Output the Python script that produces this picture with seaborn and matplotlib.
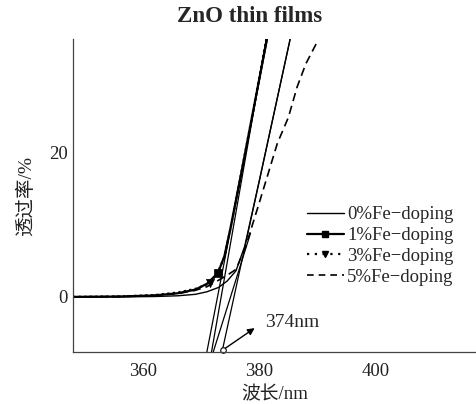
import numpy as np
import pandas as pd
import matplotlib
matplotlib.use("Agg")
import matplotlib.pyplot as plt
from matplotlib.lines import Line2D
import seaborn as sns

# Transmission spectra of ZnO thin films with different Fe doping
wl_0 = [348, 356, 362, 366, 369, 371, 373, 374.5, 376, 377.5, 380, 383, 385.3]
t_0 = [0, 0, 0.05, 0.15, 0.35, 0.7, 1.3, 2.2, 3.6, 7.0, 16.0, 27.1, 35.6]

wl_1 = [348, 356, 362, 366, 369, 371, 372.9, 374, 375, 377, 379, 381.3]
t_1 = [0, 0.05, 0.2, 0.5, 1.0, 1.8, 3.3, 5.6, 9.3, 17.5, 25.9, 35.6]

wl_3 = [348, 356, 362, 366, 369, 371.6, 373, 374, 375, 377, 379, 381.2]
t_3 = [0, 0.05, 0.25, 0.6, 1.1, 1.9, 3.6, 5.5, 9.2, 17.5, 25.9, 35.6]

wl_5 = [348, 356, 362, 366, 369, 371, 373, 374.5, 376, 377.6, 380, 383.1, 385.0, 386.5, 388, 389.8]
t_5 = [0, 0.05, 0.2, 0.45, 0.9, 1.4, 2.3, 3.0, 3.8, 6.8, 13.0, 21.2, 24.8, 29.0, 32.2, 35.0]

# Linear extrapolations of the absorption edges
tan_x = [[373.6, 385.3], [371.0, 381.4], [371.8, 381.2], [372.1, 378.5]]
tan_y = [[-7.6, 35.6], [-7.6, 35.6], [-7.6, 35.6], [-7.6, 8.8]]

# Marker positions on the 1% and 3% curves
mark_1 = (372.9, 3.3)
mark_3 = (371.6, 1.9)

labels = ["0%Fe\u2212doping", "1%Fe\u2212doping", "3%Fe\u2212doping", "5%Fe\u2212doping"]
edge_label = "374nm"
edge_x = 373.8
x_ticks = [360, 380, 400]
y_ticks = [0, 20]

sns.set_theme(style="white")
serif = ["Liberation Serif", "Noto Sans CJK SC"]
plt.rcParams["font.family"] = serif

fig = plt.figure(figsize=(4.77, 4.04), dpi=100)
ax = fig.add_axes([0.153, 0.129, 0.847, 0.774])

ymin, ymax = -7.6, 35.6

# tangent lines
for tx, ty in zip(tan_x, tan_y):
    sns.lineplot(x=tx, y=ty, ax=ax, color="black", lw=0.9, sort=False)

sns.lineplot(x=wl_0, y=t_0, ax=ax, color="black", lw=1.0)
sns.lineplot(x=wl_1, y=t_1, ax=ax, color="black", lw=1.6)
sns.lineplot(x=wl_3, y=t_3, ax=ax, color="black", lw=1.6, linestyle=(0, (1, 1.5)))
sns.lineplot(x=wl_5, y=t_5, ax=ax, color="black", lw=1.2, linestyle=(0, (5, 3)))

sns.scatterplot(x=[mark_1[0]], y=[mark_1[1]], ax=ax, color="black", marker="s", s=40, edgecolor="black")
sns.scatterplot(x=[mark_3[0]], y=[mark_3[1]], ax=ax, color="black", marker="v", s=35, edgecolor="black")

# band edge annotation
ax.plot([edge_x], [ymin + 0.3], marker="o", ms=4, mfc="white", mec="black", mew=0.8, clip_on=False)
ax.annotate("", xy=(379.6, -4.1), xytext=(edge_x, ymin + 0.3),
            arrowprops=dict(arrowstyle="-|>", color="black", lw=1.0, mutation_scale=10))
ax.text(381.0, -3.6, edge_label, fontsize=14, va="center", ha="left", family=serif)

ax.set_xlim(348, 417.4)
ax.set_ylim(ymin, ymax)
ax.set_xticks(x_ticks)
ax.set_yticks(y_ticks)
ax.tick_params(axis="both", direction="in", length=4, width=0.8, colors="#333333",
               labelcolor="#222222", labelsize=13.5)
ax.tick_params(axis="x", pad=8)
for lab in ax.get_xticklabels() + ax.get_yticklabels():
    lab.set_family(serif)
for side in ["top", "right"]:
    ax.spines[side].set_visible(False)
for side in ["left", "bottom"]:
    ax.spines[side].set_color("#444444")
    ax.spines[side].set_linewidth(0.9)

ax.set_xlabel("波长/nm", fontsize=13.5, family=serif, labelpad=4, color="#222222")
ax.set_ylabel("透过率/%", fontsize=14, family=serif, labelpad=10, color="#222222")

handles = [
    Line2D([], [], color="black", lw=1.0),
    Line2D([], [], color="black", lw=1.6, marker="s", ms=5),
    Line2D([], [], color="black", lw=1.6, linestyle=(0, (1, 2.5)), marker="v", ms=5),
    Line2D([], [], color="black", lw=1.2, linestyle=(0, (4, 3))),
]
leg = ax.legend(handles, labels, loc="upper left", bbox_to_anchor=(0.56, 0.49),
                frameon=False, fontsize=13.5, handlelength=2.0, handletextpad=0.15,
                labelspacing=0.2, borderaxespad=0)
for t in leg.get_texts():
    t.set_family(serif)

fig.text(0.524, 0.958, "ZnO thin films", ha="center", va="center", fontsize=16.5,
         fontweight="bold", family=serif)

fig.savefig("out.png", dpi=100)
